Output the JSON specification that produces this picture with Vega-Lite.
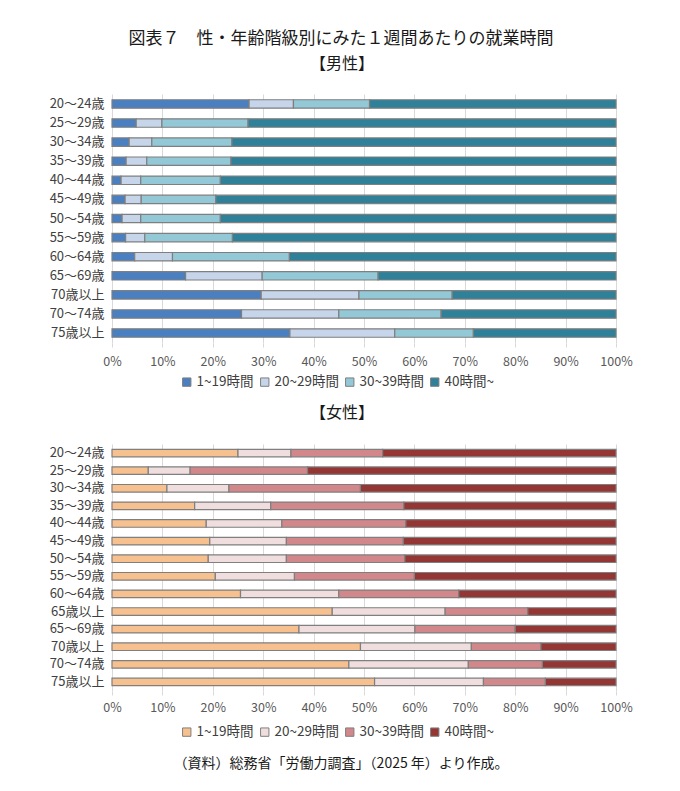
{
  "$schema": "https://vega.github.io/schema/vega-lite/v6.json",
  "padding": {"left": 46, "top": 30, "right": 20, "bottom": 10},
  "title": {"text": "図表７　性・年齢階級別にみた１週間あたりの就業時間", "fontSize": 17, "fontWeight": "normal", "color": "#1a1a1a", "anchor": "middle", "offset": 8, "dx": 2},
  "datasets": {
    "male": [
      {"age": "20～24歳", "cat": "1~19時間", "value": 27.2}, {"age": "20～24歳", "cat": "20~29時間", "value": 8.8}, {"age": "20～24歳", "cat": "30~39時間", "value": 15.1}, {"age": "20～24歳", "cat": "40時間~", "value": 48.9},
      {"age": "25～29歳", "cat": "1~19時間", "value": 4.8}, {"age": "25～29歳", "cat": "20~29時間", "value": 5.1}, {"age": "25～29歳", "cat": "30~39時間", "value": 17.1}, {"age": "25～29歳", "cat": "40時間~", "value": 73.0},
      {"age": "30～34歳", "cat": "1~19時間", "value": 3.4}, {"age": "30～34歳", "cat": "20~29時間", "value": 4.5}, {"age": "30～34歳", "cat": "30~39時間", "value": 15.9}, {"age": "30～34歳", "cat": "40時間~", "value": 76.2},
      {"age": "35～39歳", "cat": "1~19時間", "value": 2.8}, {"age": "35～39歳", "cat": "20~29時間", "value": 4.1}, {"age": "35～39歳", "cat": "30~39時間", "value": 16.7}, {"age": "35～39歳", "cat": "40時間~", "value": 76.4},
      {"age": "40～44歳", "cat": "1~19時間", "value": 1.8}, {"age": "40～44歳", "cat": "20~29時間", "value": 3.9}, {"age": "40～44歳", "cat": "30~39時間", "value": 15.8}, {"age": "40～44歳", "cat": "40時間~", "value": 78.5},
      {"age": "45～49歳", "cat": "1~19時間", "value": 2.6}, {"age": "45～49歳", "cat": "20~29時間", "value": 3.2}, {"age": "45～49歳", "cat": "30~39時間", "value": 14.8}, {"age": "45～49歳", "cat": "40時間~", "value": 79.4},
      {"age": "50～54歳", "cat": "1~19時間", "value": 2.0}, {"age": "50～54歳", "cat": "20~29時間", "value": 3.7}, {"age": "50～54歳", "cat": "30~39時間", "value": 15.8}, {"age": "50～54歳", "cat": "40時間~", "value": 78.5},
      {"age": "55～59歳", "cat": "1~19時間", "value": 2.7}, {"age": "55～59歳", "cat": "20~29時間", "value": 3.8}, {"age": "55～59歳", "cat": "30~39時間", "value": 17.4}, {"age": "55～59歳", "cat": "40時間~", "value": 76.1},
      {"age": "60～64歳", "cat": "1~19時間", "value": 4.5}, {"age": "60～64歳", "cat": "20~29時間", "value": 7.5}, {"age": "60～64歳", "cat": "30~39時間", "value": 23.2}, {"age": "60～64歳", "cat": "40時間~", "value": 64.8},
      {"age": "65～69歳", "cat": "1~19時間", "value": 14.6}, {"age": "65～69歳", "cat": "20~29時間", "value": 15.2}, {"age": "65～69歳", "cat": "30~39時間", "value": 23.0}, {"age": "65～69歳", "cat": "40時間~", "value": 47.2},
      {"age": "70歳以上", "cat": "1~19時間", "value": 29.6}, {"age": "70歳以上", "cat": "20~29時間", "value": 19.4}, {"age": "70歳以上", "cat": "30~39時間", "value": 18.5}, {"age": "70歳以上", "cat": "40時間~", "value": 32.5},
      {"age": "70～74歳", "cat": "1~19時間", "value": 25.7}, {"age": "70～74歳", "cat": "20~29時間", "value": 19.3}, {"age": "70～74歳", "cat": "30~39時間", "value": 20.3}, {"age": "70～74歳", "cat": "40時間~", "value": 34.7},
      {"age": "75歳以上", "cat": "1~19時間", "value": 35.3}, {"age": "75歳以上", "cat": "20~29時間", "value": 20.8}, {"age": "75歳以上", "cat": "30~39時間", "value": 15.6}, {"age": "75歳以上", "cat": "40時間~", "value": 28.3}
    ],
    "female": [
      {"age": "20～24歳", "cat": "1~19時間", "value": 25.0}, {"age": "20～24歳", "cat": "20~29時間", "value": 10.5}, {"age": "20～24歳", "cat": "30~39時間", "value": 18.2}, {"age": "20～24歳", "cat": "40時間~", "value": 46.3},
      {"age": "25～29歳", "cat": "1~19時間", "value": 7.2}, {"age": "25～29歳", "cat": "20~29時間", "value": 8.3}, {"age": "25～29歳", "cat": "30~39時間", "value": 23.3}, {"age": "25～29歳", "cat": "40時間~", "value": 61.2},
      {"age": "30～34歳", "cat": "1~19時間", "value": 10.9}, {"age": "30～34歳", "cat": "20~29時間", "value": 12.3}, {"age": "30～34歳", "cat": "30~39時間", "value": 26.1}, {"age": "30～34歳", "cat": "40時間~", "value": 50.7},
      {"age": "35～39歳", "cat": "1~19時間", "value": 16.4}, {"age": "35～39歳", "cat": "20~29時間", "value": 15.1}, {"age": "35～39歳", "cat": "30~39時間", "value": 26.4}, {"age": "35～39歳", "cat": "40時間~", "value": 42.1},
      {"age": "40～44歳", "cat": "1~19時間", "value": 18.7}, {"age": "40～44歳", "cat": "20~29時間", "value": 15.0}, {"age": "40～44歳", "cat": "30~39時間", "value": 24.6}, {"age": "40～44歳", "cat": "40時間~", "value": 41.7},
      {"age": "45～49歳", "cat": "1~19時間", "value": 19.4}, {"age": "45～49歳", "cat": "20~29時間", "value": 15.2}, {"age": "45～49歳", "cat": "30~39時間", "value": 23.2}, {"age": "45～49歳", "cat": "40時間~", "value": 42.2},
      {"age": "50～54歳", "cat": "1~19時間", "value": 19.1}, {"age": "50～54歳", "cat": "20~29時間", "value": 15.5}, {"age": "50～54歳", "cat": "30~39時間", "value": 23.5}, {"age": "50～54歳", "cat": "40時間~", "value": 41.9},
      {"age": "55～59歳", "cat": "1~19時間", "value": 20.5}, {"age": "55～59歳", "cat": "20~29時間", "value": 15.7}, {"age": "55～59歳", "cat": "30~39時間", "value": 23.8}, {"age": "55～59歳", "cat": "40時間~", "value": 40.0},
      {"age": "60～64歳", "cat": "1~19時間", "value": 25.5}, {"age": "60～64歳", "cat": "20~29時間", "value": 19.5}, {"age": "60～64歳", "cat": "30~39時間", "value": 23.8}, {"age": "60～64歳", "cat": "40時間~", "value": 31.2},
      {"age": "65歳以上", "cat": "1~19時間", "value": 43.7}, {"age": "65歳以上", "cat": "20~29時間", "value": 22.4}, {"age": "65歳以上", "cat": "30~39時間", "value": 16.4}, {"age": "65歳以上", "cat": "40時間~", "value": 17.5},
      {"age": "65～69歳", "cat": "1~19時間", "value": 37.1}, {"age": "65～69歳", "cat": "20~29時間", "value": 23.0}, {"age": "65～69歳", "cat": "30~39時間", "value": 19.9}, {"age": "65～69歳", "cat": "40時間~", "value": 20.0},
      {"age": "70歳以上", "cat": "1~19時間", "value": 49.3}, {"age": "70歳以上", "cat": "20~29時間", "value": 22.0}, {"age": "70歳以上", "cat": "30~39時間", "value": 13.8}, {"age": "70歳以上", "cat": "40時間~", "value": 14.9},
      {"age": "70～74歳", "cat": "1~19時間", "value": 47.0}, {"age": "70～74歳", "cat": "20~29時間", "value": 23.7}, {"age": "70～74歳", "cat": "30~39時間", "value": 14.7}, {"age": "70～74歳", "cat": "40時間~", "value": 14.6},
      {"age": "75歳以上", "cat": "1~19時間", "value": 52.1}, {"age": "75歳以上", "cat": "20~29時間", "value": 21.6}, {"age": "75歳以上", "cat": "30~39時間", "value": 12.3}, {"age": "75歳以上", "cat": "40時間~", "value": 14.0}
    ]
  },
  "vconcat": [
    {
      "title": {"text": "（資料）総務省「労働力調査」（2025 年）より作成。", "orient": "bottom", "fontSize": 14, "fontWeight": "normal", "color": "#1a1a1a", "anchor": "middle", "offset": 18, "dx": 2},
      "spacing": 16,
      "resolve": {"scale": {"color": "independent"}, "legend": {"color": "independent"}},
      "vconcat": [
        {
          "title": {"text": "【男性】", "fontSize": 16, "fontWeight": "normal", "color": "#1a1a1a", "anchor": "middle", "offset": 22, "dx": -22},
          "width": 504,
          "height": 249,
          "data": {"name": "male"},
          "mark": {"type": "bar", "stroke": "#7f7f7f", "strokeWidth": 1.2},
          "encoding": {
            "y": {"field": "age", "type": "nominal", "sort": ["20～24歳","25～29歳","30～34歳","35～39歳","40～44歳","45～49歳","50～54歳","55～59歳","60～64歳","65～69歳","70歳以上","70～74歳","75歳以上"], "scale": {"paddingInner": 0.56, "paddingOuter": 0.3}, "axis": {"title": null, "ticks": false, "domain": false, "labelFontSize": 13, "labelColor": "#404040", "labelPadding": 8, "minExtent": 66, "maxExtent": 66}},
            "x": {"field": "value", "type": "quantitative", "stack": "normalize", "scale": {"domain": [0, 1]}, "axis": {"title": null, "format": ".0%", "values": [0,0.1,0.2,0.3,0.4,0.5,0.6,0.7,0.8,0.9,1], "grid": true, "gridColor": "#d9d9d9", "domain": false, "tickColor": "#d9d9d9", "tickSize": 4, "labelFontSize": 12.5, "labelColor": "#595959", "labelPadding": 8, "labelFlush": false}},
            "color": {"field": "cat", "type": "nominal", "scale": {"domain": ["1~19時間","20~29時間","30~39時間","40時間~"], "range": ["#4a7fc1","#c6d5ea","#93c8d6","#2f8099"]}, "legend": {"title": null, "orient": "none", "legendX": 68, "legendY": 281, "direction": "horizontal", "symbolType": "square", "symbolSize": 70, "symbolStrokeColor": "#7f7f7f", "symbolStrokeWidth": 1, "labelFontSize": 13.5, "labelColor": "#404040", "labelOffset": 3, "columnPadding": 4}}
          }
        },
        {
          "title": {"text": "【女性】", "fontSize": 16, "fontWeight": "normal", "color": "#1a1a1a", "anchor": "middle", "offset": 23, "dx": -22},
          "width": 504,
          "height": 247,
          "data": {"name": "female"},
          "mark": {"type": "bar", "stroke": "#7f7f7f", "strokeWidth": 1.2},
          "encoding": {
            "y": {"field": "age", "type": "nominal", "sort": ["20～24歳","25～29歳","30～34歳","35～39歳","40～44歳","45～49歳","50～54歳","55～59歳","60～64歳","65歳以上","65～69歳","70歳以上","70～74歳","75歳以上"], "scale": {"paddingInner": 0.57, "paddingOuter": 0.3}, "axis": {"title": null, "ticks": false, "domain": false, "labelFontSize": 13, "labelColor": "#404040", "labelPadding": 8, "minExtent": 66, "maxExtent": 66}},
            "x": {"field": "value", "type": "quantitative", "stack": "normalize", "scale": {"domain": [0, 1]}, "axis": {"title": null, "format": ".0%", "values": [0,0.1,0.2,0.3,0.4,0.5,0.6,0.7,0.8,0.9,1], "grid": true, "gridColor": "#d9d9d9", "domain": false, "tickColor": "#d9d9d9", "tickSize": 4, "labelFontSize": 12.5, "labelColor": "#595959", "labelPadding": 6, "labelFlush": false}},
            "color": {"field": "cat", "type": "nominal", "scale": {"domain": ["1~19時間","20~29時間","30~39時間","40時間~"], "range": ["#f7c18f","#f0dede","#d2878b","#943634"]}, "legend": {"title": null, "orient": "none", "legendX": 68, "legendY": 281, "direction": "horizontal", "symbolType": "square", "symbolSize": 70, "symbolStrokeColor": "#7f7f7f", "symbolStrokeWidth": 1, "labelFontSize": 13.5, "labelColor": "#404040", "labelOffset": 3, "columnPadding": 4}}
          }
        }
      ]
    }
  ],
  "config": {
    "font": "Noto Sans CJK JP",
    "view": {"stroke": null},
    "axis": {"labelFont": "Noto Sans CJK JP"},
    "legend": {"labelFont": "Noto Sans CJK JP"}
  }
}
